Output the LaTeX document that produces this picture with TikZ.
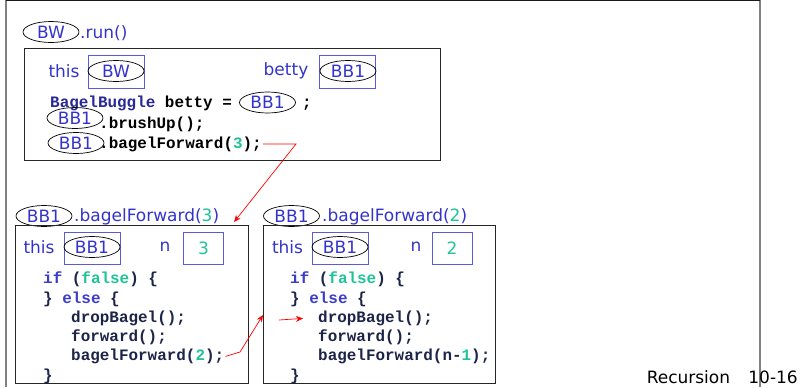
\documentclass[tikz,border=0pt]{standalone}
\usepackage{fontspec}
\newfontfamily\handfont{DejaVu Sans}
\newfontfamily\codefont{Liberation Mono}
\usepackage{xcolor}
\definecolor{objblue}{RGB}{51,51,204}
\definecolor{boxblue}{RGB}{90,90,222}
\definecolor{kwblue}{RGB}{60,60,200}
\definecolor{typeblue}{RGB}{40,40,150}
\definecolor{litgreen}{RGB}{30,196,150}
\definecolor{codenavy}{RGB}{28,36,72}
\definecolor{framegray}{RGB}{128,128,128}
\usetikzlibrary{arrows.meta, shapes.geometric, calc}

\tikzset{
  objref/.style={ellipse, draw=black, line width=0.6pt, text=objblue,
    font=\handfont\fontsize{14.5}{16}\selectfont,
    minimum width=1.68cm, minimum height=0.63cm, inner sep=0pt},
  varbox/.style={draw=boxblue, line width=0.8pt, minimum width=1.68cm,
    minimum height=0.98cm, inner sep=0pt},
  numbox/.style={varbox, minimum width=1.2cm, text=litgreen,
    font=\handfont\fontsize{14.5}{16}\selectfont},
  lbl/.style={text=objblue, font=\handfont\fontsize{14.5}{16}\selectfont, inner sep=0pt},
  framebox/.style={draw=black!85, line width=0.9pt, inner sep=0pt, anchor=north west},
  code/.style={font=\codefont\bfseries\fontsize{13.6}{16}\selectfont,
    inner sep=0pt, anchor=base west, text=codenavy},
  callarrow/.style={red, line width=0.6pt, -{Stealth[length=6pt,width=5pt]}}
}

\begin{document}
\begin{tikzpicture}[x=0.03cm, y=-0.03cm]
  \useasboundingbox (0,0) rectangle (804,387);
  % slide edges
  \draw[framegray, line width=1.7pt] (6,0) -- (6,387);
  \draw[framegray, line width=1.7pt] (760,0) -- (760,387);
  \draw[black!90, line width=1.2pt] (6,0.6) -- (760,0.6);

  % BW.run()
  \node[objref] (bw) at (51,32) {BW};
  \node[lbl, anchor=west] (runlbl) at (80,33) {.run()};
  \node[framebox, minimum width=12.48cm, minimum height=3.36cm] (runframe) at (24,48) {};
  \node[lbl] (thisA) at (64,71) {this};
  \node[varbox] (thisboxA) at (116,72) {};
  \node[objref] (thisrefA) at (116,71) {BW};
  \node[lbl] (bettylbl) at (286,71) {betty};
  \node[varbox] (bettybox) at (347.5,72) {};
  \node[objref] (bettyref) at (348,71) {BB1};
  \node[code, text=black] (decl) at (50,107) {\textcolor{typeblue}{BagelBuggle} betty =};
  \node[objref] (newref) at (267.5,102.5) {BB1};
  \node[code, text=black] (semi) at (302,107) {;};
  \node[objref] (brushref) at (75,118) {BB1};
  \node[code, text=black] (brush) at (99,128) {.brushUp();};
  \node[objref] (fwdref) at (76,143) {BB1};
  \node[code, text=black] (call3) at (99,148) {.bagelForward(\textcolor{litgreen}{3});};

  % BB1.bagelForward(3)
  \node[objref] (headA) at (44,216) {BB1};
  \node[lbl, anchor=west] (headlblA) at (74,217) {.bagelForward(\textcolor{litgreen}{3})};
  \node[framebox, minimum width=6.99cm, minimum height=4.74cm] (frameA) at (15,225) {};
  \node[lbl] (thisB) at (39,247) {this};
  \node[varbox] (thisboxB) at (92,248.5) {};
  \node[objref] (thisrefB) at (92,247) {BB1};
  \node[lbl] (nA) at (165,247) {n};
  \node[numbox] (nboxA) at (203.5,248.5) {3};
  \node[code] (ifA) at (43,283) {\textcolor{kwblue}{if} (\textcolor{litgreen}{false}) \{};
  \node[code] (elseA) at (43,303) {\} \textcolor{kwblue}{else} \{};
  \node[code] (dropA) at (71,322.5) {dropBagel();};
  \node[code] (moveA) at (71,341.5) {forward();};
  \node[code] (call2) at (71,360.5) {bagelForward(\textcolor{litgreen}{2});};
  \node[code] (endA) at (43,380) {\}};

  % BB1.bagelForward(2)
  \node[objref] (headB) at (291.5,216) {BB1};
  \node[lbl, anchor=west] (headlblB) at (322,217) {.bagelForward(\textcolor{litgreen}{2})};
  \node[framebox, minimum width=6.96cm, minimum height=4.74cm] (frameB) at (263,225) {};
  \node[lbl] (thisC) at (287.5,247) {this};
  \node[varbox] (thisboxC) at (340,248.5) {};
  \node[objref] (thisrefC) at (340,247) {BB1};
  \node[lbl] (nB) at (416,247) {n};
  \node[numbox] (nboxB) at (452,248.5) {2};
  \node[code] (ifB) at (290,283) {\textcolor{kwblue}{if} (\textcolor{litgreen}{false}) \{};
  \node[code] (elseB) at (290,303) {\} \textcolor{kwblue}{else} \{};
  \node[code] (dropB) at (318,322.5) {dropBagel();};
  \node[code] (moveB) at (318,341.5) {forward();};
  \node[code] (callB) at (318,360.5) {bagelForward(n-\textcolor{litgreen}{1});};
  \node[code] (endB) at (290,380) {\}};

  % calls
  \coordinate (bend3) at (296,144);
  \draw[callarrow] (call3.east) ++(1,0) -- (bend3) -- ($(frameA.north east)+(-15,-3)$);
  \coordinate (bend2) at (240,352);
  \draw[callarrow] (call2.east) ++(1,0) -- (bend2) -- (frameB.west |- 0,315);
  \coordinate (pc) at (279,320);
  \draw[callarrow] (pc) -- ($(dropB.west)+(-15,0)$);

  \node[anchor=east, inner sep=0pt, font=\handfont\fontsize{14.5}{16}\selectfont] (pagenum)
    at (798,377) {Recursion\hspace{0.55cm}10-16};
\end{tikzpicture}
\end{document}
